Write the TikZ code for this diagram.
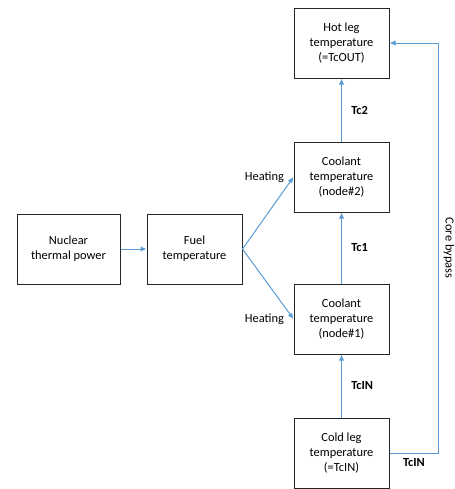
\documentclass[tikz,border=0pt]{standalone}
\usepackage{fontspec}
\setmainfont{Carlito}
\usetikzlibrary{arrows.meta, positioning}
\definecolor{flowblue}{RGB}{91,155,213}
\tikzset{
  box/.style = {rectangle, draw=black!85, line width=0.75pt, minimum width=71.25pt, minimum height=52.5pt, align=center, inner sep=3pt, font=\fontsize{9.3}{11.2}\selectfont},
  arr/.style = {-{Latex[length=4.5pt,width=4pt]}, draw=flowblue, line width=0.75pt},
  lbl/.style = {font=\fontsize{9.3}{11.2}\selectfont, inner sep=1pt},
  tag/.style = {font=\fontsize{9.3}{11.2}\selectfont\bfseries, inner sep=1pt}
}

\begin{document}
\begin{tikzpicture}[x=0.75pt, y=-0.75pt]
\useasboundingbox (0,0) rectangle (454,489);

% Power and fuel
\node[box] (fuel) at (194.5,249) {Fuel\\temperature};
\node[box, minimum width=77.25pt, left=19.5pt of fuel] (power) {Nuclear\\thermal power};

% Coolant column (bottom to top)
\node[box] (coolA) at (341.5,319) {Coolant\\temperature\\(node\#1)};
\node[box, above=53.25pt of coolA] (coolB) {Coolant\\temperature\\(node\#2)};
\node[box, above=47.25pt of coolB] (hotleg) {Hot leg\\temperature\\(=TcOUT)};
\node[box, below=47.25pt of coolA] (coldleg) {Cold leg\\temperature\\(=TcIN)};
\coordinate[right=36.75pt of coldleg.east] (bypass);

% ----- ARROWS -----
\draw[arr] (power.east) -- (fuel.west);
% Heating of both coolant nodes
\draw[arr] (fuel.east) -- (coolB.west);
\draw[arr] (fuel.east) -- (coolA.west);
\node[lbl, left=6pt of coolB.west] {Heating};
\node[lbl, left=6pt of coolA.west] {Heating};
% Up the core
\draw[arr] (coldleg.north) -- node[tag, right=6pt] {TcIN} (coolA.south);
\draw[arr] (coolA.north) -- node[tag, right=6pt] {Tc1} (coolB.south);
\draw[arr] (coolB.north) -- node[tag, right=6pt] {Tc2} (hotleg.south);
% Core bypass
\draw[arr] (coldleg.east) -- node[tag, below=3pt] {TcIN} (bypass)
  -- node[lbl, rotate=-90, anchor=south, yshift=2.5pt] {Core bypass} (bypass |- hotleg.east)
  -- (hotleg.east);

\end{tikzpicture}
\end{document}
